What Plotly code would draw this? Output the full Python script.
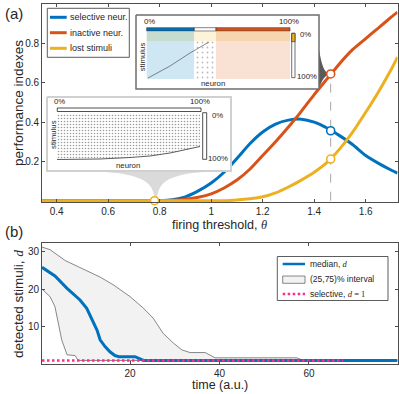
import plotly.graph_objects as go

# ---- panel (a): performance indexes vs firing threshold ----
theta = [0.343, 0.40, 0.50, 0.60, 0.70, 0.75, 0.80, 0.85, 0.90, 0.95, 1.00, 1.05, 1.10,
         1.15, 1.20, 1.25, 1.30, 1.35, 1.40, 1.45, 1.50, 1.55, 1.60, 1.65, 1.70, 1.7235]
selective = [0, 0, 0, 0, 0, 0, 0, 0.005, 0.02, 0.05, 0.09, 0.145, 0.215,
             0.29, 0.35, 0.39, 0.41, 0.415, 0.40, 0.37, 0.33, 0.285, 0.23, 0.19, 0.155, 0.14]
inactive = [0, 0, 0, 0, 0, 0, 0, 0.002, 0.008, 0.018, 0.035, 0.065, 0.105,
            0.16, 0.23, 0.30, 0.375, 0.455, 0.54, 0.62, 0.70, 0.77, 0.825, 0.88, 0.935, 0.96]
lost = [0, 0, 0, 0, 0, 0, 0, 0, 0, 0, 0, 0, 0.004,
        0.01, 0.02, 0.04, 0.07, 0.105, 0.145, 0.195, 0.265, 0.35, 0.45, 0.555, 0.67, 0.73]

mark_theta = [0.78, 1.464, 1.464, 1.464]
mark_value = [0, 0.645, 0.356, 0.212]

# ---- panel (b): detected stimuli vs time ----
t_median = [0.3, 3.2, 5.9, 8.8, 10.3, 11.4, 12.6, 13.3, 14.4, 15.5, 16.6, 17.5, 21.1, 23.0, 79.8]
median = [25.8, 23.5, 20.2, 17.1, 14.9, 12.2, 9.1, 6.5, 4.7, 3.3, 2.3, 2.0, 2.0, 1.0, 1.0]
t_upper = [0.3, 2.1, 5.5, 8.8, 13.3, 16.3, 20.0, 23.0, 25.2, 27.4, 29.7, 31.6, 33.4, 36.8,
           39.0, 57.3, 58.7, 79.8]
upper = [31.2, 30.5, 27.6, 25.8, 23.2, 21.1, 18.0, 14.9, 12.2, 8.2, 5.6, 3.8, 3.1, 3.1,
         1.7, 1.7, 1.0, 1.0]
t_lower = [0.3, 2.1, 3.2, 4.0, 4.7, 5.9, 7.7, 8.4, 79.8]
lower = [20.0, 18.0, 15.3, 10.9, 6.5, 2.5, 2.3, 1.0, 1.0]
t_sel = [0.3, 67.6]
sel = [1, 1]

BLUE = '#0072bd'
ORANGE = '#d95319'
YELLOW = '#edb120'
PINK = '#ff2b8f'
TXT = '#262626'
FONT = 'Liberation Sans, Arial, sans-serif'
W, H = 399, 394


def fx(x):
    return x / W


def fy(y):
    return 1 - y / H


def label(x, y, text, size, xanchor='center', angle=0):
    return dict(x=fx(x), y=fy(y), xref='paper', yref='paper', text=text, showarrow=False,
                xanchor=xanchor, yanchor='middle', textangle=angle, borderpad=0, borderwidth=0,
                font=dict(size=size, color=TXT, family=FONT))


def box(x0, y0, x1, y1, fill, line='rgba(0,0,0,0)', lw=0):
    # rectangle drawn on the pixel overlay axes
    return go.Scatter(x=[x0, x1, x1, x0, x0], y=[y0, y0, y1, y1, y0], mode='lines',
                      fill='toself', fillcolor=fill, line=dict(color=line, width=lw),
                      xaxis='x5', yaxis='y5', hoverinfo='skip', showlegend=False)


def seg(xs, ys, color, lw, dash='solid'):
    return go.Scatter(x=xs, y=ys, mode='lines', line=dict(color=color, width=lw, dash=dash),
                      xaxis='x5', yaxis='y5', hoverinfo='skip', showlegend=False)


def curve(parts):
    # parts: list of ('M'|'L'|'C', [points]) in pixels
    s = ''
    for cmd, pts in parts:
        s += ' ' + cmd + ' ' + ' '.join('%.4f,%.4f' % (fx(p[0]), fy(p[1])) for p in pts)
    return s + ' Z'


fig = go.Figure()

# panel (a)
fig.add_trace(go.Scatter(x=[mark_theta[1], mark_theta[1]], y=[0, mark_value[1]], mode='lines',
                         line=dict(color='#a6a6a6', width=1, dash='dash'), showlegend=False))
fig.add_trace(go.Scatter(x=theta, y=selective, mode='lines', name='selective neur.',
                         line=dict(color=BLUE, width=3, shape='spline', smoothing=0.6)))
fig.add_trace(go.Scatter(x=theta, y=inactive, mode='lines', name='inactive neur.',
                         line=dict(color=ORANGE, width=3, shape='spline', smoothing=0.6)))
fig.add_trace(go.Scatter(x=theta, y=lost, mode='lines', name='lost stimuli',
                         line=dict(color=YELLOW, width=3, shape='spline', smoothing=0.6)))
fig.add_trace(go.Scatter(x=mark_theta, y=mark_value, mode='markers', cliponaxis=False,
                         marker=dict(size=8, color='white',
                                     line=dict(color=[YELLOW, ORANGE, BLUE, YELLOW], width=1.6)),
                         showlegend=False))

# panel (b)
fig.add_trace(go.Scatter(x=t_upper + t_lower[::-1], y=upper + lower[::-1], mode='lines',
                         fill='toself', fillcolor='#f2f2f2', line=dict(color='#3a3a3a', width=0.6),
                         xaxis='x2', yaxis='y2', name='(25,75)% interval'))
fig.add_trace(go.Scatter(x=t_median, y=median, mode='lines', line=dict(color=BLUE, width=3),
                         xaxis='x2', yaxis='y2', name='median, d'))
fig.add_trace(go.Scatter(x=t_sel, y=sel, mode='lines',
                         line=dict(color=PINK, width=2.5, dash='2.5px,2.5px'),
                         xaxis='x2', yaxis='y2', name='selective, d = 1'))

# inset 1 (low threshold raster)
fig.add_trace(box(47, 97, 231, 171, 'white', '#d0d0d0', 2))
fig.add_trace(box(57.3, 108, 201, 111.5, 'white', '#222222', 0.8))
raster_x = [57, 57, 100, 130, 150, 170, 185, 200, 200, 57]
raster_y = [113.5, 159.5, 159, 157.5, 156, 153, 150, 146.5, 113.5, 113.5]
fig.add_trace(go.Scatter(x=raster_x, y=raster_y, mode='lines', fill='toself', fillcolor='white',
                         fillpattern=dict(shape='.', fgcolor='#3a3a3a', bgcolor='white', size=3,
                                          solidity=0.22),
                         line=dict(width=0), xaxis='x5', yaxis='y5', hoverinfo='skip',
                         showlegend=False))
fig.add_trace(seg(raster_x[1:8], raster_y[1:8], '#333333', 0.8))
fig.add_trace(box(202.7, 112.7, 206.7, 159.3, 'white', '#222222', 0.8))

# inset 2 (high threshold raster)
fig.add_trace(box(136, 15, 319, 89, 'white', '#6e6e6e', 1.5))
fig.add_trace(box(146.7, 31.7, 194.3, 41, '#c6dccf'))
fig.add_trace(box(194.3, 31.7, 216, 41, '#fdf3d8'))
fig.add_trace(box(216, 31.7, 290, 41, '#f6d5b0'))
fig.add_trace(box(146.7, 41, 194.3, 79, '#cfe6f3'))
fig.add_trace(go.Scatter(x=[194.3, 216, 216, 194.3, 194.3], y=[41, 41, 79, 79, 41], mode='lines',
                         fill='toself', fillcolor='white',
                         fillpattern=dict(shape='.', fgcolor='#777777', bgcolor='white', size=5,
                                          solidity=0.1),
                         line=dict(width=0), xaxis='x5', yaxis='y5', hoverinfo='skip',
                         showlegend=False))
fig.add_trace(box(216, 41, 290, 79, '#f9e1d4'))
fig.add_trace(seg([148, 170, 190, 209], [78, 66, 53, 42], '#555555', 0.7))
fig.add_trace(box(146.7, 27.7, 194.3, 31, BLUE, '#333333', 0.6))
fig.add_trace(box(194.3, 27.7, 216, 31, 'white', '#333333', 0.6))
fig.add_trace(box(216, 27.7, 290, 31, ORANGE, '#333333', 0.6))
fig.add_trace(box(291.7, 33.3, 295, 77.7, 'white', '#333333', 0.7))
fig.add_trace(box(291.7, 33.3, 295, 41.7, YELLOW, '#333333', 0.7))

shapes = []
# funnels linking the insets to the marked thresholds
shapes.append(dict(type='path', xref='paper', yref='paper', layer='below',
                   path=curve([('M', [(80, 171)]), ('C', [(140, 172), (153, 180), (154.8, 199)]),
                               ('L', [(157, 199)]), ('C', [(158.5, 180), (170, 172), (228, 171)])]),
                   fillcolor='#dadada', line=dict(width=0)))
shapes.append(dict(type='path', xref='paper', yref='paper', layer='below',
                   path=curve([('M', [(319, 50)]), ('C', [(322, 66), (324, 72), (329.5, 74)]),
                               ('C', [(324, 76), (321, 82), (319, 89)])]),
                   fillcolor='#5a5a5a', line=dict(width=0)))
# legend (a)
shapes.append(dict(type='rect', xref='paper', yref='paper', x0=fx(47.3), x1=fx(129.3),
                   y0=fy(57.3), y1=fy(8.3), fillcolor='white', line=dict(color='#333333', width=0.8)))
for yy, col in [(17.3, BLUE), (32.7, ORANGE), (48.3, YELLOW)]:
    shapes.append(dict(type='line', xref='paper', yref='paper', x0=fx(50), x1=fx(66.7),
                       y0=fy(yy), y1=fy(yy), line=dict(color=col, width=3)))
# legend (b)
shapes.append(dict(type='rect', xref='paper', yref='paper', x0=fx(277.3), x1=fx(388),
                   y0=fy(300.5), y1=fy(256.5), fillcolor='white', line=dict(color='#333333', width=0.8)))
shapes.append(dict(type='line', xref='paper', yref='paper', x0=fx(282.7), x1=fx(305),
                   y0=fy(264), y1=fy(264), line=dict(color=BLUE, width=2.5)))
shapes.append(dict(type='rect', xref='paper', yref='paper', x0=fx(282.7), x1=fx(305),
                   y0=fy(283.3), y1=fy(276), fillcolor='#f2f2f2', line=dict(color='#3a3a3a', width=0.6)))
shapes.append(dict(type='line', xref='paper', yref='paper', x0=fx(282.7), x1=fx(305),
                   y0=fy(294), y1=fy(294), line=dict(color=PINK, width=2.5, dash='2.5px,2.5px')))

SERIF_D = '<span style="font-family:Liberation Serif"><i>d</i></span>'
annotations = [
    label(5, 14, '(a)', 15, 'left'),
    label(5, 231, '(b)', 15, 'left'),
    label(219.5, 225, 'firing threshold, <span style="font-family:Liberation Serif"><i>θ</i></span>', 12.5),
    label(18, 103, 'performance indexes', 13.5, angle=-90),
    label(219.5, 385, 'time (a.u.)', 12.5),
    label(18, 304, 'detected stimuli, ' + SERIF_D, 13.5, angle=-90),
    label(70, 17.3, 'selective neur.', 9, 'left'),
    label(70, 32.7, 'inactive neur.', 9, 'left'),
    label(70, 48.3, 'lost stimuli', 9, 'left'),
    label(310, 264, 'median, ' + SERIF_D, 8.5, 'left'),
    label(310, 279.3, '(25,75)% interval', 8.5, 'left'),
    label(310, 294, 'selective, <span style="font-family:Liberation Serif"><i>d</i> = 1</span>', 8.5, 'left'),
    # inset 1
    label(53.5, 101.5, '0%', 7.8, 'left'),
    label(210, 101.5, '100%', 7.8, 'right'),
    label(211.5, 115.5, '0%', 7.8, 'left'),
    label(208, 158.5, '100%', 7.8, 'left'),
    label(53, 135, 'stimulus', 7.8, angle=-90),
    label(128.3, 165, 'neuron', 7.8),
    # inset 2
    label(143.5, 21.5, '0%', 7.8, 'left'),
    label(299, 21.5, '100%', 7.8, 'right'),
    label(299.5, 34.5, '0%', 7.8, 'left'),
    label(296.5, 76.5, '100%', 7.8, 'left'),
    label(142.3, 57, 'stimulus', 7.8, angle=-90),
    label(213, 84, 'neuron', 7.8),
]

ax = dict(showline=True, linecolor='#4d4d4d', linewidth=0.8, mirror='ticks', ticks='inside',
          ticklen=3, tickwidth=0.8, tickcolor='#4d4d4d', showgrid=False, zeroline=False,
          tickfont=dict(size=10, color=TXT, family=FONT), fixedrange=True)

fig.update_layout(
    width=W, height=H, margin=dict(l=0, r=0, t=0, b=0), showlegend=False,
    paper_bgcolor='white', plot_bgcolor='rgba(0,0,0,0)',
    xaxis=dict(ax, domain=[fx(42), fx(397.5)], anchor='y', range=[0.343, 1.7235],
               tickvals=[0.4, 0.6, 0.8, 1.0, 1.2, 1.4, 1.6]),
    yaxis=dict(ax, domain=[fy(202.3), fy(4.2)], anchor='x', range=[-0.008, 1],
               tickvals=[0.2, 0.4, 0.6, 0.8]),
    xaxis2=dict(ax, domain=[fx(42), fx(397.5)], anchor='y2', range=[0.3, 79.8],
                tickvals=[20, 40, 60]),
    yaxis2=dict(ax, domain=[fy(364.2), fy(243.3)], anchor='x2', range=[0, 32.2],
                tickvals=[10, 20, 30]),
    xaxis5=dict(domain=[0, 1], anchor='y5', range=[0, W], visible=False, fixedrange=True),
    yaxis5=dict(domain=[0, 1], anchor='x5', range=[H, 0], visible=False, fixedrange=True),
    shapes=shapes, annotations=annotations,
)

# the page body has a default 8px margin; drop it so the figure sits at the window corner
fig.write_html("out.html", config={'displayModeBar': False},
               post_script="document.body.style.margin='0';")
